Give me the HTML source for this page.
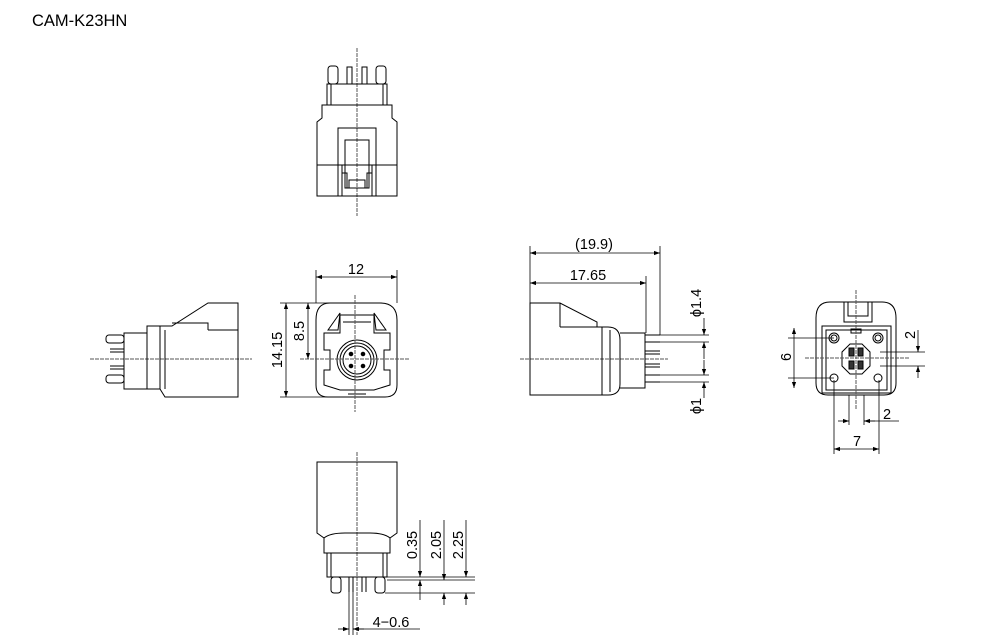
<!DOCTYPE html>
<html><head><meta charset="utf-8"><style>
html,body{margin:0;padding:0;background:#fff;}
svg{display:block;}
text{font-family:"Liberation Sans",Arial,sans-serif;fill:#000;}
</style></head><body>
<svg width="993" height="639" viewBox="0 0 993 639" xmlns="http://www.w3.org/2000/svg">
<defs>
<marker id="a" viewBox="0 0 10 10" refX="10" refY="5" markerWidth="8" markerHeight="6" orient="auto-start-reverse" markerUnits="userSpaceOnUse"><path d="M0,1.5L10,5L0,8.5z" fill="#000"/></marker>
</defs>
<text x="32" y="26" font-size="16.5">CAM-K23HN</text>

<g fill="none" stroke="#000" stroke-width="1">
<!-- TOP VIEW -->
<line x1="357" y1="48" x2="357" y2="216" stroke="#555" stroke-dasharray="4,1"/>
<rect x="328" y="66" width="10" height="18" rx="3"/>
<rect x="376" y="66" width="10" height="18" rx="3"/>
<rect x="347" y="67" width="5" height="17"/>
<rect x="362" y="67" width="5" height="17"/>
<rect x="327" y="84" width="60" height="21"/>
<line x1="331" y1="84" x2="331" y2="105"/><line x1="383" y1="84" x2="383" y2="105"/>
<path d="M322,105 L322,118 L317,122 L317,196 L397,196 L397,122 L392,118 L392,105 Z"/>
<line x1="317" y1="165" x2="397" y2="165"/>
<path d="M338,196 V128 H376 V196"/>
<path d="M342,165 V173 H347 V188 H367 V173 H372 V165"/>
<rect x="345" y="140" width="24" height="48"/>
<line x1="342" y1="165" x2="342" y2="196"/><line x1="372" y1="165" x2="372" y2="196"/>
<rect x="349" y="180" width="16" height="8"/>

<!-- LEFT SIDE VIEW -->
<line x1="90" y1="359" x2="252" y2="359" stroke="#555" stroke-dasharray="4,1"/>
<path d="M147,326 H172 L208,303 H238 V397 H165 L160,389 H147 Z"/>
<path d="M172,323 H208 V330"/>
<line x1="208" y1="330" x2="238" y2="330"/>
<line x1="160" y1="326" x2="160" y2="389"/>
<line x1="165" y1="330" x2="165" y2="389"/>
<path d="M147,333 H124 V389 H147"/>
<rect x="106" y="335" width="18" height="8" rx="3"/>
<rect x="106" y="375" width="18" height="8" rx="3"/>
<path d="M110,349 H124 M110,352 H124 M110,366 H124 M110,369 H124"/>

<!-- FRONT VIEW -->
<path d="M330,303 H380 Q397,303 397,320 V385 Q397,397 385,397 H328 Q316,397 316,385 V320 Q316,303 330,303 Z"/>
<path d="M324,333 V350 L330,350 V370 L324,370 V385 L340,390 H374 L390,385 V370 L384,370 V350 L390,350 V333 L374,333 V315 H340 V333 Z"/>
<path d="M328,330 L340,313 L338,330 Z"/>
<path d="M386,330 L374,313 L376,330 Z"/>
<line x1="343" y1="322" x2="371" y2="322"/>
<circle cx="357" cy="360" r="20"/>
<circle cx="357" cy="360" r="17"/>
<circle cx="357" cy="360" r="14"/>
<circle cx="351" cy="354" r="1.8" fill="#000"/><circle cx="363" cy="354" r="1.8" fill="#000"/>
<circle cx="351" cy="366" r="1.8" fill="#000"/><circle cx="363" cy="366" r="1.8" fill="#000"/>
<line x1="348" y1="394" x2="366" y2="394"/>
<line x1="355" y1="295" x2="355" y2="412" stroke="#555" stroke-dasharray="4,1"/>
<line x1="300" y1="359" x2="410" y2="359" stroke="#555" stroke-dasharray="4,1"/>
<!-- dims -->
<line x1="316" y1="270" x2="316" y2="303" stroke-width="0.8"/>
<line x1="397" y1="270" x2="397" y2="303" stroke-width="0.8"/>
<line x1="316" y1="277" x2="397" y2="277" marker-start="url(#a)" marker-end="url(#a)" stroke-width="0.8"/>
<line x1="280" y1="303" x2="330" y2="303" stroke-width="0.8"/>
<line x1="280" y1="397" x2="330" y2="397" stroke-width="0.8"/>
<line x1="286" y1="303" x2="286" y2="397" marker-start="url(#a)" marker-end="url(#a)" stroke-width="0.8"/>
<line x1="308" y1="303" x2="308" y2="359" marker-start="url(#a)" marker-end="url(#a)" stroke-width="0.8"/>

<!-- RIGHT SIDE VIEW -->
<line x1="520" y1="359" x2="668" y2="359" stroke="#555" stroke-dasharray="4,1"/>
<path d="M530,303 H560 L597,322 V327 H602 V395 H530 Z"/>
<line x1="560" y1="303" x2="560" y2="327"/>
<line x1="560" y1="327" x2="602" y2="327"/>
<path d="M600,327 H608 Q620,327 620,340 V384 Q620,395 608,395 H600"/>
<line x1="610" y1="330" x2="610" y2="392"/>
<path d="M620,333 H645 V388 H620"/>
<path d="M645,335 H660 M645,342 H660 M645,375 H660 M645,382 H660"/>
<path d="M645,351 H660 M645,354 H660 M645,364 H660 M645,367 H660"/>
<line x1="660" y1="335" x2="709" y2="335" stroke-width="0.8"/>
<line x1="660" y1="342" x2="709" y2="342" stroke-width="0.8"/>
<line x1="660" y1="375" x2="709" y2="375" stroke-width="0.8"/>
<line x1="660" y1="382" x2="709" y2="382" stroke-width="0.8"/>
<line x1="530" y1="246" x2="530" y2="303" stroke-width="0.8"/>
<line x1="660" y1="246" x2="660" y2="335" stroke-width="0.8"/>
<line x1="646" y1="276" x2="646" y2="333" stroke-width="0.8"/>
<line x1="530" y1="253" x2="660" y2="253" marker-start="url(#a)" marker-end="url(#a)" stroke-width="0.8"/>
<line x1="530" y1="283" x2="646" y2="283" marker-start="url(#a)" marker-end="url(#a)" stroke-width="0.8"/>
<line x1="704" y1="318" x2="704" y2="335" marker-end="url(#a)" stroke-width="0.8"/>
<line x1="704" y1="359" x2="704" y2="342" marker-end="url(#a)" stroke-width="0.8"/>
<line x1="704" y1="360" x2="704" y2="375" marker-end="url(#a)" stroke-width="0.8"/>
<line x1="704" y1="398" x2="704" y2="382" marker-end="url(#a)" stroke-width="0.8"/>

<!-- FAR RIGHT VIEW -->
<path d="M830,302 H882 Q896,302 896,318 V383 Q896,395 884,395 H828 Q816,395 816,383 V318 Q816,302 830,302 Z"/>
<path d="M844,302 V322 H872 V302"/>
<path d="M848,302 V316 H868 V302"/>
<rect x="822" y="326" width="69" height="67"/>
<rect x="826" y="330" width="61" height="60"/>
<circle cx="834" cy="338" r="5"/><circle cx="834" cy="338" r="3"/>
<circle cx="878" cy="338" r="5"/><circle cx="878" cy="338" r="3"/>
<circle cx="834" cy="378" r="4"/><circle cx="878" cy="378" r="4"/>
<path d="M850,344 L862,344 L870,352 V366 L862,374 H850 L842,366 V352 Z"/>
<rect x="849" y="348" width="5" height="8" fill="#333"/>
<rect x="858" y="348" width="5" height="8" fill="#333"/>
<rect x="849" y="361" width="5" height="8" fill="#333"/>
<rect x="858" y="361" width="5" height="8" fill="#333"/>
<rect x="851" y="329" width="10" height="4"/>
<line x1="856" y1="290" x2="856" y2="410" stroke="#555" stroke-dasharray="4,1"/>
<line x1="805" y1="358" x2="910" y2="358" stroke="#555" stroke-dasharray="4,1"/>
<line x1="788" y1="338" x2="834" y2="338" stroke-width="0.8"/>
<line x1="788" y1="378" x2="834" y2="378" stroke-width="0.8"/>
<line x1="794" y1="328" x2="794" y2="388" marker-start="url(#a)" marker-end="url(#a)" stroke-width="0.8"/>
<line x1="880" y1="352" x2="925" y2="352" stroke-width="0.8"/>
<line x1="880" y1="366" x2="925" y2="366" stroke-width="0.8"/>
<line x1="918" y1="330" x2="918" y2="352" marker-end="url(#a)" stroke-width="0.8"/>
<line x1="918" y1="378" x2="918" y2="366" marker-end="url(#a)" stroke-width="0.8"/>
<line x1="849" y1="395" x2="849" y2="425" stroke-width="0.8"/>
<line x1="864" y1="395" x2="864" y2="425" stroke-width="0.8"/>
<line x1="834" y1="380" x2="834" y2="454" stroke-width="0.8"/>
<line x1="879" y1="380" x2="879" y2="454" stroke-width="0.8"/>
<line x1="838" y1="421" x2="849" y2="421" marker-end="url(#a)" stroke-width="0.8"/>
<line x1="864" y1="421" x2="899" y2="421" stroke-width="0.8"/>
<line x1="875" y1="421" x2="864" y2="421" marker-end="url(#a)" stroke-width="0.8"/>
<line x1="834" y1="449" x2="879" y2="449" marker-start="url(#a)" marker-end="url(#a)" stroke-width="0.8"/>

<!-- BOTTOM VIEW -->
<line x1="357" y1="452" x2="357" y2="635" stroke="#555" stroke-dasharray="4,1"/>
<path d="M317,462 H397 V533 L390,538 V553 H324 V538 L317,533 Z"/>
<path d="M324,538 Q330,533 345,533 H370 Q384,533 390,538"/>
<rect x="327" y="553" width="60" height="24"/>
<line x1="331" y1="553" x2="331" y2="577"/><line x1="383" y1="553" x2="383" y2="577"/>
<rect x="331" y="577" width="10" height="16" rx="3"/>
<rect x="375" y="577" width="10" height="16" rx="3"/>
<path d="M349,577 V592 M353,577 V592 M362,577 V592 M366,577 V592"/>
<line x1="349" y1="592" x2="349" y2="635" stroke-width="0.8"/>
<line x1="353" y1="592" x2="353" y2="635" stroke-width="0.8"/>
<line x1="387" y1="577" x2="475" y2="577" stroke-width="0.8"/>
<line x1="387" y1="580" x2="475" y2="580" stroke-width="0.8"/>
<line x1="385" y1="593" x2="475" y2="593" stroke-width="0.8"/>
<line x1="420" y1="520" x2="420" y2="577" marker-end="url(#a)" stroke-width="0.8"/>
<line x1="420" y1="600" x2="420" y2="580" marker-end="url(#a)" stroke-width="0.8"/>
<line x1="444" y1="520" x2="444" y2="580" marker-end="url(#a)" stroke-width="0.8"/>
<line x1="444" y1="605" x2="444" y2="593" marker-end="url(#a)" stroke-width="0.8"/>
<line x1="466" y1="520" x2="466" y2="577" marker-end="url(#a)" stroke-width="0.8"/>
<line x1="466" y1="605" x2="466" y2="593" marker-end="url(#a)" stroke-width="0.8"/>
<line x1="338" y1="629" x2="349" y2="629" marker-end="url(#a)" stroke-width="0.8"/>
<line x1="420" y1="629" x2="353" y2="629" stroke-width="0.8"/>
<line x1="364" y1="629" x2="353" y2="629" marker-end="url(#a)" stroke-width="0.8"/>
</g>

<g font-size="14.5">
<text x="356" y="274" text-anchor="middle">12</text>
<text transform="translate(282,350) rotate(-90)" text-anchor="middle">14.15</text>
<text transform="translate(304,331) rotate(-90)" text-anchor="middle">8.5</text>
<text x="594" y="249" text-anchor="middle">(19.9)</text>
<text x="588" y="280" text-anchor="middle">17.65</text>
<text transform="translate(701,303) rotate(-90)" text-anchor="middle">ϕ1.4</text>
<text transform="translate(701,406) rotate(-90)" text-anchor="middle">ϕ1</text>
<text transform="translate(791,357) rotate(-90)" text-anchor="middle">6</text>
<text transform="translate(915,335) rotate(-90)" text-anchor="middle">2</text>
<text x="887" y="419" text-anchor="middle">2</text>
<text x="857" y="446" text-anchor="middle">7</text>
<text transform="translate(417,545) rotate(-90)" text-anchor="middle">0.35</text>
<text transform="translate(441,545) rotate(-90)" text-anchor="middle">2.05</text>
<text transform="translate(463,545) rotate(-90)" text-anchor="middle">2.25</text>
<text x="391" y="627" text-anchor="middle">4−0.6</text>
</g>
</svg>
</body></html>
